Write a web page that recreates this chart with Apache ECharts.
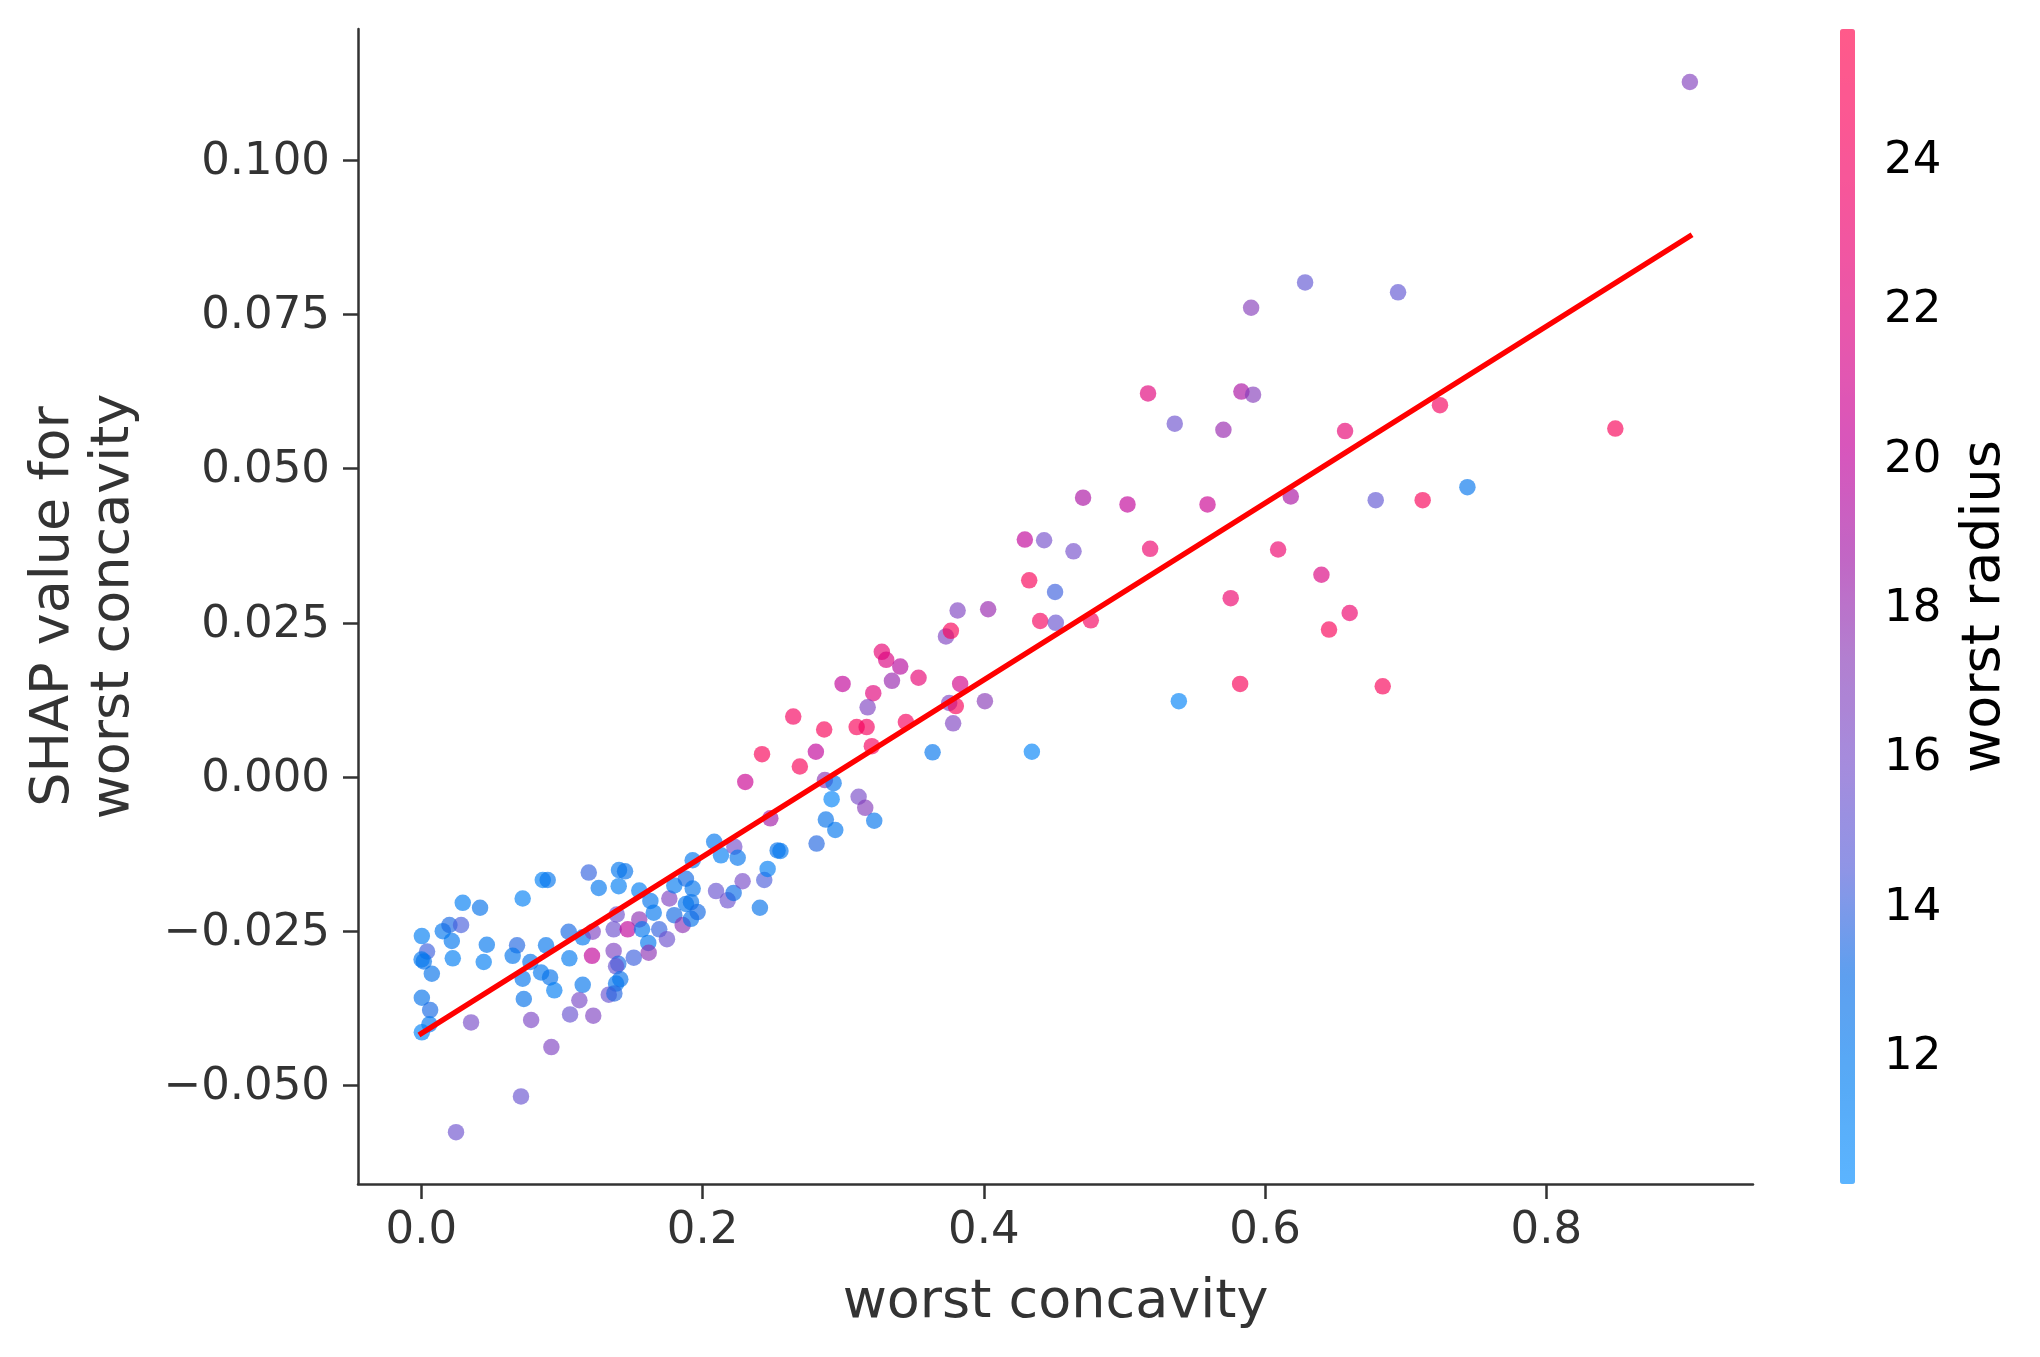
<!DOCTYPE html>
<html>
<head>
<meta charset="utf-8">
<script src="https://cdn.jsdelivr.net/npm/echarts@6/dist/echarts.min.js"></script>
<style>
html,body{margin:0;padding:0;background:#ffffff;}
#chart{width:2040px;height:1357px;}
</style>
</head>
<body>
<div id="chart"></div>
<script>
// ---- data ----
const worstConcavity = [
  0.0004,0.0041,0.0018,0.0002,0.0075,0.0004,0.0063,0.0058,0.0004,0.0153,
  0.0200,0.0283,0.0217,0.0224,0.0295,0.0418,0.0466,0.0444,0.0354,0.0247,
  0.0709,0.0721,0.0864,0.0899,0.0681,0.0650,0.0776,0.0721,0.0729,0.0781,
  0.0925,0.0852,0.0916,0.0946,0.0887,0.1048,0.1053,0.1148,0.1219,0.1214,
  0.1148,0.1124,0.1058,0.1223,0.1191,0.1262,0.1404,0.1406,0.1449,0.1390,
  0.1368,0.1468,0.1368,0.1401,0.1385,0.1511,0.1415,0.1385,0.1333,0.1373,
  0.1550,0.1550,0.1570,0.1629,0.1653,0.1614,0.1617,0.1692,0.1747,0.1764,
  0.1799,0.1882,0.1930,0.1882,0.1918,0.1799,0.1859,0.1918,0.1965,0.1930,
  0.2083,0.2131,0.2226,0.2250,0.2096,0.2179,0.2221,0.2285,0.2408,0.2439,
  0.2463,0.2534,0.2554,
  0.4323,0.4507,0.3814,0.4031,0.4401,0.4512,0.4761,0.3731,0.3766,0.3275,
  0.3306,0.3406,0.3347,0.3536,0.2996,0.3214,0.3174,0.3832,0.3754,0.3801,
  0.4008,0.3782,0.2645,0.2865,0.3096,0.3167,0.3446,0.3204,0.2423,0.2692,
  0.2806,0.2304,0.2870,0.2932,0.2918,0.3110,0.3157,0.3221,0.2877,0.2944,
  0.2811,0.2482,0.3636,0.4342,
  0.5168,0.5832,0.5915,0.5358,0.5704,0.4706,0.5022,0.5591,0.6183,0.4292,
  0.4429,0.4638,0.5183,0.6093,0.5756,0.5823,0.5387,
  0.6285,0.6946,0.5901,0.6569,0.7244,0.6787,0.7121,0.7439,
  0.6401,0.6602,0.6455,0.6837,
  0.9021,0.8491
];
const shapValue = [
  -0.0258,-0.0283,-0.0299,-0.0296,-0.0319,-0.0358,-0.0378,-0.0401,-0.0414,-0.0250,
  -0.0240,-0.0240,-0.0266,-0.0294,-0.0204,-0.0212,-0.0272,-0.0300,-0.0398,-0.0576,
  -0.0518,-0.0197,-0.0167,-0.0167,-0.0273,-0.0290,-0.0300,-0.0327,-0.0360,-0.0394,
  -0.0438,-0.0317,-0.0325,-0.0346,-0.0273,-0.0251,-0.0294,-0.0260,-0.0251,-0.0290,
  -0.0337,-0.0362,-0.0385,-0.0387,-0.0155,-0.0180,-0.0177,-0.0151,-0.0153,-0.0223,
  -0.0247,-0.0247,-0.0282,-0.0303,-0.0307,-0.0293,-0.0328,-0.0335,-0.0353,-0.0351,
  -0.0184,-0.0231,-0.0247,-0.0201,-0.0220,-0.0269,-0.0285,-0.0247,-0.0263,-0.0197,
  -0.0176,-0.0165,-0.0181,-0.0206,-0.0203,-0.0224,-0.0240,-0.0230,-0.0219,-0.0135,
  -0.0105,-0.0127,-0.0113,-0.0131,-0.0185,-0.0200,-0.0188,-0.0169,-0.0212,-0.0167,
  -0.0149,-0.0119,-0.0120,
  0.0319,0.0300,0.0270,0.0272,0.0253,0.0250,0.0254,0.0228,0.0237,0.0203,
  0.0190,0.0179,0.0156,0.0161,0.0151,0.0136,0.0113,0.0151,0.0120,0.0115,
  0.0123,0.0087,0.0098,0.0077,0.0081,0.0081,0.0089,0.0050,0.0037,0.0017,
  0.0041,-0.0008,-0.0005,-0.0010,-0.0036,-0.0032,-0.0050,-0.0071,-0.0069,-0.0086,
  -0.0108,-0.0067,0.0040,0.0041,
  0.0622,0.0625,0.0620,0.0573,0.0563,0.0453,0.0442,0.0442,0.0455,0.0385,
  0.0384,0.0366,0.0370,0.0369,0.0290,0.0151,0.0123,
  0.0802,0.0786,0.0761,0.0561,0.0603,0.0449,0.0449,0.0470,
  0.0328,0.0266,0.0239,0.0147,
  0.1127,0.0565
];
const worstRadius = [
  11.5,14.0,12.5,12.0,12.5,12.5,13.3,12.0,11.0,12.0,
  13.3,14.2,12.0,11.5,11.5,12.5,12.0,11.5,16.0,15.5,
  15.3,11.3,11.3,12.3,13.5,12.3,12.5,12.3,12.5,16.3,
  16.5,12.0,12.5,11.5,12.3,13.3,11.8,12.0,16.5,20.0,
  12.3,16.2,15.3,16.5,13.8,12.0,11.5,12.0,12.5,15.5,
  15.5,20.0,16.5,13.3,15.3,14.0,12.5,12.3,15.3,13.5,
  11.5,17.5,12.0,12.3,12.0,12.0,17.5,13.8,15.5,16.5,
  11.8,13.2,12.3,12.2,12.5,13.2,17.5,12.5,13.2,12.0,
  12.0,11.5,15.8,12.3,15.3,15.5,13.0,16.0,12.5,14.3,
  11.5,12.5,12.0,
  24.5,14.0,16.5,18.0,24.0,15.3,24.0,16.5,24.5,22.5,
  21.5,19.5,18.0,22.5,20.0,22.0,16.5,21.0,16.5,24.5,
  17.2,16.5,24.0,24.5,24.5,24.0,24.0,24.0,24.5,24.5,
  20.0,20.5,17.5,12.3,11.0,16.0,17.0,12.3,12.5,12.0,
  13.5,18.5,12.3,11.0,
  22.0,19.0,17.0,15.5,18.0,19.0,20.0,20.5,19.0,20.0,
  15.8,15.8,23.0,23.0,23.0,24.5,11.0,
  15.0,15.0,17.0,22.5,24.0,15.0,24.5,12.3,
  21.5,23.0,24.5,24.5,
  16.8,24.5
];
const fitX = [0.0, 0.902];
const fitY = [-0.0416, 0.0877];
const xTicks = [0, 0.2, 0.4, 0.6, 0.8];
const yTicks = [-0.05, -0.025, 0, 0.025, 0.05, 0.075, 0.1];
const cbTicks = [12, 14, 16, 18, 20, 22, 24];

// ---- styling ----
const FONT = 'DejaVu Sans';
const AX = '#333333';
const dotColors = ['#038CFF','#007CF1','#076BE6','#535CD9','#754ECB','#893AB7',
                   '#A114A4','#C10098','#D90081','#EB006D','#F7005A','#FF004B'];
const barColors = ['#5BB4FF','#57AAF6','#5E9FEF','#8F95E6','#A58CDD','#B27FD0',
                   '#C266C4','#D756BC','#E657AD','#F256A0','#FA5794','#FF5A8A'];

function fmtY(v) {
  const s = Math.abs(v).toFixed(3);
  return v < -1e-9 ? '\u2212' + s : s;
}

const chart = echarts.init(document.getElementById('chart'), null, {renderer: 'canvas'});
const option = {
  backgroundColor: '#ffffff',
  animation: false,
  textStyle: {fontFamily: FONT},
  grid: [
    {left: 358, top: 29, width: 1395, height: 1155},
    {left: 1840, top: 29, width: 15, height: 1155}
  ],
  xAxis: [
    {
      type: 'value', gridIndex: 0, min: -0.045, max: 0.947,
      axisLine: {show: true, onZero: false, lineStyle: {color: AX, width: 2.5}},
      axisTick: {show: true, length: 15, customValues: xTicks, lineStyle: {color: AX, width: 2.5}},
      axisLabel: {customValues: xTicks, margin: 25, fontSize: 45, lineHeight: 45, color: AX, fontFamily: FONT,
                  formatter: v => v.toFixed(1)},
      splitLine: {show: false},
      name: 'worst concavity', nameLocation: 'middle', nameGap: 92,
      nameTextStyle: {fontSize: 54, lineHeight: 54, color: AX, fontFamily: FONT}
    },
    {type: 'value', gridIndex: 1, show: false, min: 0, max: 1}
  ],
  yAxis: [
    {
      type: 'value', gridIndex: 0, min: -0.066, max: 0.1213,
      axisLine: {show: true, onZero: false, lineStyle: {color: AX, width: 2.5}},
      axisTick: {show: true, length: 15, customValues: yTicks, lineStyle: {color: AX, width: 2.5}},
      axisLabel: {customValues: yTicks, margin: 28, fontSize: 45, color: AX, fontFamily: FONT,
                  verticalAlign: 'top', lineHeight: 4, formatter: fmtY},
      splitLine: {show: false},
      name: 'SHAP value for\nworst concavity', nameLocation: 'middle', nameGap: 214,
      nameTextStyle: {fontSize: 54, lineHeight: 60, color: AX, fontFamily: FONT, align: 'center'}
    },
    {
      type: 'value', gridIndex: 1, position: 'right', min: 10.2, max: 25.66,
      axisLine: {show: false},
      axisTick: {show: true, length: 15, customValues: cbTicks, lineStyle: {color: '#000000', width: 2.5}},
      axisLabel: {customValues: cbTicks, margin: 29, fontSize: 45, color: '#000000', fontFamily: FONT,
                  verticalAlign: 'top', lineHeight: 16},
      splitLine: {show: false},
      name: 'worst radius', nameLocation: 'middle', nameRotate: 90, nameGap: 103,
      nameTextStyle: {fontSize: 54, lineHeight: 54, color: '#000000', fontFamily: FONT}
    }
  ],
  visualMap: {
    type: 'continuous', min: 10.2, max: 25.66, dimension: 2, seriesIndex: 0,
    orient: 'vertical', left: 1840, top: 29, itemWidth: 15, itemHeight: 1155,
    padding: 0, calculable: false, hoverLink: false, text: null,
    inRange: {color: dotColors},
    controller: {inRange: {color: barColors}}
  },
  series: [
    {
      type: 'scatter', xAxisIndex: 0, yAxisIndex: 0,
      symbol: 'circle', symbolSize: 16.5,
      itemStyle: {opacity: 0.65, borderWidth: 0},
      data: worstConcavity.map((x, i) => [x, shapValue[i], worstRadius[i]]),
      z: 2
    },
    {
      type: 'line', xAxisIndex: 0, yAxisIndex: 0,
      data: fitX.map((x, i) => [x, fitY[i]]),
      symbol: 'none', silent: true,
      lineStyle: {color: '#ff0000', width: 5.5, cap: 'square'},
      z: 3
    }
  ]
};
chart.setOption(option);
</script>
</body>
</html>
